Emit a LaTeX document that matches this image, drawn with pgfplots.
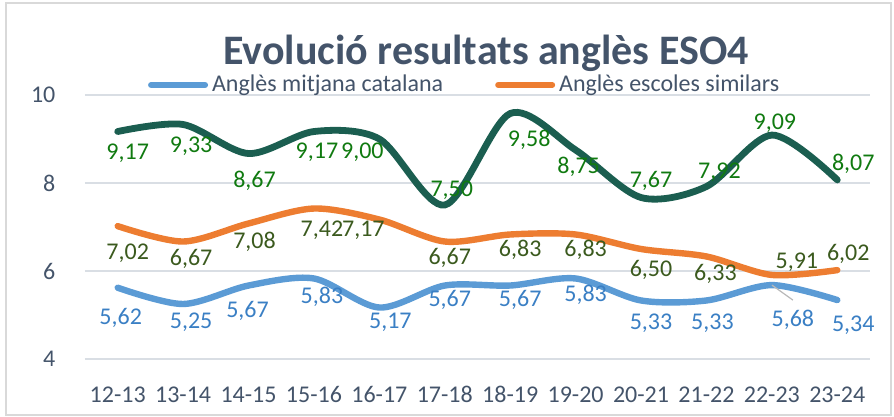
\documentclass[border=0pt]{standalone}
\usepackage{fontspec}
\setmainfont{Carlito}
\usepackage{pgfplots}
\pgfplotsset{compat=1.18}
\definecolor{txt}{HTML}{44546A}
\definecolor{grn}{HTML}{1B5E50}
\definecolor{grnlab}{HTML}{107A10}
\definecolor{blu}{HTML}{5B9BD5}
\definecolor{blulab}{HTML}{3A7FC4}
\definecolor{org}{HTML}{ED7D31}
\definecolor{orglab}{HTML}{3B5A1E}
\definecolor{gridc}{HTML}{D9DEE4}
\definecolor{framec}{HTML}{D9D9D9}
\newcommand{\lblfont}{\fontsize{12}{14}\selectfont}
\begin{document}
\begin{tikzpicture}
\useasboundingbox (0pt,0pt) rectangle (447pt,208.5pt);
\draw[framec, line width=0.6pt] (3pt,1pt) rectangle (445.5pt,207pt);
\node[font=\fontsize{21}{25}\selectfont\bfseries, text=txt, anchor=base] at (243pt,176pt) {Evolució resultats anglès ESO4};
\begin{axis}[
  at={(42.5pt,29pt)}, anchor=south west,
  scale only axis, width=392.5pt, height=132pt,
  xmin=-0.5, xmax=11.5, ymin=4, ymax=10,
  ytick={4,6,8,10},
  xtick={0,...,11},
  xticklabels={12-13,13-14,14-15,15-16,16-17,17-18,18-19,19-20,20-21,21-22,22-23,23-24},
  minor xtick={-0.5,0.5,...,11.5},
  axis x line*=bottom, axis y line*=left,
  x axis line style={gridc, line width=0.8pt, -},
  y axis line style={draw=none},
  xtick style={draw=none},
  ytick style={draw=none},
  minor x tick style={gridc, line width=0.8pt},
  minor tick length=3.5pt,
  tick align=outside,
  ymajorgrids, grid style={gridc, line width=0.8pt},
  /pgf/number format/assume math mode=true,
  ticklabel style={font=\lblfont, text=txt},
  xticklabel style={anchor=north, yshift=-6pt},
  yticklabel style={anchor=east, xshift=-7pt},
  legend columns=2,
  legend style={draw=none, fill=none, at={(0.485,1.038)}, anchor=center, font=\lblfont, text=txt,
    /tikz/every even column/.append style={column sep=24pt}},
  legend image code/.code={\draw[#1, line width=3pt, line cap=round] (0pt,0pt) -- (27pt,0pt);},
  clip=false,
]
% Blue: Anglès mitjana catalana
\addplot[smooth, blu, line width=3.2pt, line cap=round] coordinates {
 (0,5.62) (1,5.25) (2,5.67) (3,5.83) (4,5.17) (5,5.67) (6,5.67) (7,5.83) (8,5.33) (9,5.33) (10,5.68) (11,5.34)};
\addlegendentry{Anglès mitjana catalana}
% Orange: Anglès escoles similars
\addplot[smooth, org, line width=3.2pt, line cap=round] coordinates {
 (0,7.02) (1,6.67) (2,7.08) (3,7.42) (4,7.17) (5,6.67) (6,6.83) (7,6.83) (8,6.50) (9,6.33) (10,5.91) (11,6.02)};
\addlegendentry{Anglès escoles similars}
% Green: centre
\addplot[smooth, grn, line width=3.4pt, line cap=round, forget plot] coordinates {
 (0,9.17) (1,9.33) (2,8.67) (3,9.17) (4,9.00) (5,7.50) (6,9.58) (7,8.75) (8,7.67) (9,7.92) (10,9.09) (11,8.07)};
% leader line
\draw[gray!55, line width=0.6pt] (axis cs:10,5.68) -- ++(10.5pt,-7.5pt);
% labels
\addplot[draw=none, mark=none, forget plot, nodes near coords, point meta=explicit symbolic,
  visualization depends on={\thisrow{dx}\as\dx},
  visualization depends on={\thisrow{dy}\as\dy},
  every node near coord/.append style={anchor=center, xshift=\dx pt, yshift=\dy pt, font=\lblfont, text=grnlab, inner sep=0pt}]
 table[x=x, y=y, meta=lab] {
x y dx dy lab
0 9.17 5 -10.75 9,17
1 9.33 4 -11 9,33
2 8.67 3 -13.5 8,67
3 9.17 1.5 -10.5 9,17
4 9.00 -8.5 -6.5 9,00
5 7.50 3.5 7.5 7,50
6 9.58 9.5 -13 9,58
7 8.75 1.5 -8.5 8,75
8 7.67 5 8.5 7,67
9 7.92 6.5 7 7,92
10 9.09 1.5 6 9,09
11 8.07 8 8 8,07
};
\addplot[draw=none, mark=none, forget plot, nodes near coords, point meta=explicit symbolic,
  visualization depends on={\thisrow{dx}\as\dx},
  visualization depends on={\thisrow{dy}\as\dy},
  every node near coord/.append style={anchor=center, xshift=\dx pt, yshift=\dy pt, font=\lblfont, text=orglab, inner sep=0pt}]
 table[x=x, y=y, meta=lab] {
x y dx dy lab
0 7.02 5 -13.5 7,02
1 6.67 4 -8.75 6,67
2 7.08 3 -9.25 7,08
3 7.42 4 -10.75 7,42
4 7.17 -8 -5.25 7,17
5 6.67 2.5 -8.25 6,67
6 6.83 5 -7.75 6,83
7 6.83 5 -7.75 6,83
8 6.50 5 -10.5 6,50
9 6.33 4.5 -8.75 6,33
10 5.91 12.5 6.5 5,91
11 6.02 5.5 8 6,02
};
\addplot[draw=none, mark=none, forget plot, nodes near coords, point meta=explicit symbolic,
  visualization depends on={\thisrow{dx}\as\dx},
  visualization depends on={\thisrow{dy}\as\dy},
  every node near coord/.append style={anchor=center, xshift=\dx pt, yshift=\dy pt, font=\lblfont, text=blulab, inner sep=0pt}]
 table[x=x, y=y, meta=lab] {
x y dx dy lab
0 5.62 1.5 -15 5,62
1 5.25 4 -9 5,25
2 5.67 -0.5 -12.75 5,67
3 5.83 4 -9.25 5,83
4 5.17 5.5 -7.25 5,17
5 5.67 2.5 -7.25 5,67
6 5.67 5 -7.25 5,67
7 5.83 5 -8.25 5,83
8 5.33 5 -11.25 5,33
9 5.33 3 -11.25 5,33
10 5.68 10.5 -17.5 5,68
11 5.34 8 -12.5 5,34
};
\end{axis}
\end{tikzpicture}
\end{document}
